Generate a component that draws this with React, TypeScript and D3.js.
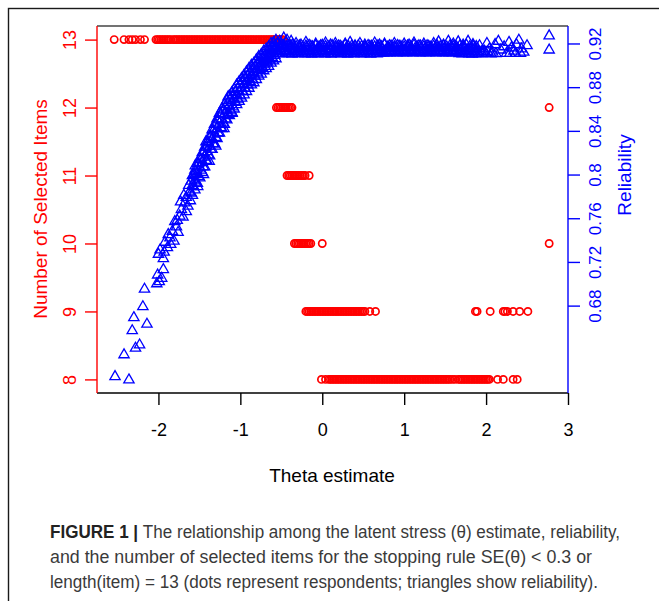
import React, { useRef, useEffect } from "react";
import * as d3 from "d3";

const W = 659;
const H = 601;
const RED = "#ff0000";
const BLUE = "#0000ff";

// axis ticks
const thetaTicks = [-2, -1, 0, 1, 2, 3];
const itemTicks = [8, 9, 10, 11, 12, 13];
const relTicks = [0.68, 0.72, 0.76, 0.8, 0.84, 0.88, 0.92];
const relTickLabels = ["0.68", "0.72", "0.76", "0.8", "0.84", "0.88", "0.92"];

// theta estimates of respondents, grouped by number of selected items
const items13 = [
  -2.54, -2.42, -2.36, -2.32, -2.28, -2.22, -2.17,
  -2.03, -2.01, -1.99, -1.97, -1.95, -1.93, -1.91, -1.89, -1.87, -1.85,
  -1.82, -1.8, -1.78, -1.76, -1.74, -1.72, -1.7, -1.68, -1.66, -1.64, -1.62, -1.6, -1.58, -1.56,
  -1.54, -1.52, -1.5, -1.48, -1.46, -1.44, -1.42, -1.4, -1.38, -1.36, -1.34, -1.32, -1.3, -1.28,
  -1.26, -1.24, -1.22, -1.2, -1.18, -1.16, -1.14, -1.12, -1.1, -1.08, -1.06, -1.04, -1.02, -1.0,
  -0.98, -0.96, -0.94, -0.92, -0.9, -0.88, -0.86, -0.84, -0.82, -0.8, -0.78, -0.76, -0.74, -0.72,
  -0.7, -0.68, -0.66, -0.64, -0.62, -0.6, -0.58, -0.56, -0.54, -0.52, -0.5, -0.48,
];
const items12 = [-0.56, -0.54, -0.52, -0.5, -0.48, -0.46, -0.44, -0.42, -0.4, -0.38, -0.37, 2.77];
const items11 = [-0.43, -0.41, -0.39, -0.37, -0.35, -0.33, -0.31, -0.29, -0.27, -0.25, -0.23, -0.21, -0.16];
const items10 = [-0.34, -0.32, -0.3, -0.28, -0.26, -0.24, -0.22, -0.2, -0.18, -0.16, -0.14, 0.0, 2.77];
const items9 = [
  -0.2, -0.18, -0.16, -0.14, -0.12, -0.1, -0.08, -0.06, -0.04, -0.02, 0.0, 0.02, 0.04, 0.06,
  0.08, 0.1, 0.12, 0.14, 0.16, 0.18, 0.2, 0.22, 0.24, 0.26, 0.28, 0.3, 0.32, 0.34, 0.36, 0.38,
  0.4, 0.42, 0.44, 0.46, 0.48, 0.5, 0.52, 0.58, 0.65,
  1.87, 1.89, 2.05, 2.21, 2.23, 2.26, 2.33, 2.41, 2.51,
];
const items8 = [
  -0.01, 0.04, 0.08, 0.1, 0.12, 0.14, 0.16, 0.18, 0.2, 0.22, 0.24, 0.26, 0.28, 0.3, 0.32, 0.34,
  0.36, 0.38, 0.4, 0.42, 0.44, 0.46, 0.48, 0.5, 0.52, 0.54, 0.56, 0.58, 0.6, 0.62, 0.64, 0.66,
  0.68, 0.7, 0.72, 0.74, 0.76, 0.78, 0.8, 0.82, 0.84, 0.86, 0.88, 0.9, 0.92, 0.94, 0.96, 0.98,
  1.0, 1.02, 1.04, 1.06, 1.08, 1.1, 1.12, 1.14, 1.16, 1.18, 1.2, 1.22, 1.24, 1.26, 1.28, 1.3,
  1.32, 1.34, 1.36, 1.38, 1.4, 1.42, 1.44, 1.46, 1.48, 1.5, 1.52, 1.54, 1.56, 1.59, 1.62, 1.66,
  1.68, 1.7, 1.72, 1.74, 1.76, 1.78, 1.8, 1.82, 1.84, 1.86, 1.88, 1.9, 1.92, 1.94, 1.96, 1.98,
  2.0, 2.02, 2.04, 2.14, 2.21, 2.33, 2.38,
];

// reliability vs theta: [theta, reliability]
const relLow: [number, number][] = [
  [-2.53, 0.615], [-2.42, 0.635], [-2.36, 0.612], [-2.32, 0.657], [-2.3, 0.669], [-2.28, 0.641],
  [-2.23, 0.644], [-2.19, 0.679], [-2.17, 0.695], [-2.14, 0.663], [-2.02, 0.7], [-2.01, 0.708],
  [-1.99, 0.702], [-1.96, 0.705], [-1.94, 0.713], [-1.94, 0.723], [-2.0, 0.727], [-1.98, 0.731],
  [-1.93, 0.729], [-1.89, 0.733], [-1.86, 0.742], [-1.83, 0.748], [-1.81, 0.739], [-1.78, 0.752],
  [-1.77, 0.758], [-1.74, 0.762], [-1.72, 0.768], [-1.7, 0.761], [-1.68, 0.774], [-1.66, 0.779],
  [-1.64, 0.771], [-1.62, 0.784], [-1.92, 0.738], [-1.88, 0.745], [-1.85, 0.736], [-1.8, 0.757],
  [-1.76, 0.747], [-1.73, 0.775], [-1.69, 0.781], [-1.66, 0.766], [-1.63, 0.79], [-1.61, 0.776],
];
const relCurve: [number, number][] = [
  [-1.6, 0.794], [-1.6, 0.783], [-1.585, 0.79], [-1.57, 0.8], [-1.57, 0.789], [-1.555, 0.795],
  [-1.54, 0.803], [-1.54, 0.793], [-1.525, 0.801], [-1.51, 0.81], [-1.51, 0.798], [-1.495, 0.806],
  [-1.48, 0.814], [-1.48, 0.804], [-1.465, 0.811], [-1.45, 0.82], [-1.45, 0.807], [-1.435, 0.816],
  [-1.42, 0.825], [-1.42, 0.813], [-1.405, 0.821], [-1.39, 0.829], [-1.39, 0.818], [-1.375, 0.826],
  [-1.36, 0.835], [-1.36, 0.823], [-1.345, 0.832], [-1.33, 0.84], [-1.33, 0.828], [-1.315, 0.837],
  [-1.3, 0.846], [-1.3, 0.834], [-1.285, 0.842], [-1.27, 0.85], [-1.27, 0.838], [-1.255, 0.847],
  [-1.24, 0.855], [-1.24, 0.843], [-1.225, 0.851], [-1.21, 0.859], [-1.21, 0.847], [-1.195, 0.855],
  [-1.18, 0.862], [-1.18, 0.851], [-1.165, 0.859], [-1.15, 0.866], [-1.15, 0.855], [-1.135, 0.863],
  [-1.12, 0.87], [-1.12, 0.859], [-1.105, 0.866], [-1.09, 0.873], [-1.09, 0.862], [-1.075, 0.869],
  [-1.06, 0.876], [-1.06, 0.866], [-1.045, 0.873], [-1.03, 0.879], [-1.03, 0.869], [-1.015, 0.876],
  [-1.0, 0.883], [-1.0, 0.872], [-0.985, 0.879], [-0.97, 0.886], [-0.97, 0.876], [-0.955, 0.882],
  [-0.94, 0.889], [-0.94, 0.879], [-0.925, 0.885], [-0.91, 0.891], [-0.91, 0.882], [-0.895, 0.888],
  [-0.88, 0.894], [-0.88, 0.885], [-0.865, 0.891], [-0.85, 0.897], [-0.85, 0.887], [-0.835, 0.893],
  [-0.82, 0.899], [-0.82, 0.89], [-0.805, 0.896], [-0.79, 0.902], [-0.79, 0.893], [-0.775, 0.899],
  [-0.76, 0.905], [-0.76, 0.896], [-0.745, 0.901], [-0.73, 0.907], [-0.73, 0.898], [-0.715, 0.904],
  [-0.7, 0.909], [-0.7, 0.901], [-0.685, 0.906], [-0.67, 0.912], [-0.67, 0.903], [-0.655, 0.908],
  [-0.64, 0.914], [-0.64, 0.905], [-0.625, 0.911], [-0.61, 0.916], [-0.61, 0.907], [-0.595, 0.913],
  [-0.58, 0.918], [-0.58, 0.909], [-0.565, 0.915], [-0.55, 0.92], [-0.55, 0.911],
  [-1.45, 0.8], [-1.3, 0.826], [-1.38, 0.812], [-1.52, 0.789], [-1.2, 0.842], [-1.1, 0.856],
  [-1.55, 0.808], [-1.42, 0.83], [-1.15, 0.871], [-0.52, 0.922], [-0.47, 0.925], [-0.43, 0.923],
  [-0.38, 0.922],
];
const relCurveFringe: [number, number][] = [
  [-1.585, 0.799], [-1.585, 0.781], [-1.555, 0.804], [-1.555, 0.786], [-1.525, 0.81], [-1.525, 0.792],
  [-1.495, 0.815], [-1.495, 0.797], [-1.465, 0.82], [-1.465, 0.802], [-1.435, 0.825], [-1.435, 0.807],
  [-1.405, 0.83], [-1.405, 0.812], [-1.375, 0.835], [-1.375, 0.817], [-1.345, 0.841], [-1.345, 0.823],
  [-1.315, 0.846], [-1.315, 0.828], [-1.285, 0.851], [-1.285, 0.833], [-1.255, 0.856], [-1.255, 0.838],
  [-1.225, 0.86], [-1.225, 0.842], [-1.195, 0.864], [-1.195, 0.846], [-1.165, 0.868], [-1.165, 0.85],
  [-1.135, 0.872], [-1.135, 0.854], [-1.105, 0.875], [-1.105, 0.857], [-1.075, 0.878], [-1.075, 0.86],
  [-1.045, 0.882], [-1.045, 0.864], [-1.015, 0.885], [-1.015, 0.867], [-0.985, 0.888], [-0.985, 0.87],
  [-0.955, 0.891], [-0.955, 0.873], [-0.925, 0.894], [-0.925, 0.876], [-0.895, 0.897], [-0.895, 0.879],
  [-0.865, 0.9], [-0.865, 0.882], [-0.835, 0.902], [-0.835, 0.884], [-0.805, 0.905], [-0.805, 0.887],
  [-0.775, 0.908], [-0.775, 0.89], [-0.745, 0.91], [-0.745, 0.892], [-0.715, 0.913], [-0.715, 0.895],
  [-0.685, 0.915], [-0.685, 0.897], [-0.655, 0.917], [-0.655, 0.899], [-0.625, 0.92], [-0.625, 0.902],
  [-0.595, 0.921], [-0.595, 0.904], [-0.565, 0.923], [-0.565, 0.906],
];
const relPlateauFloor: [number, number][] = [
  [-0.53, 0.9108], [-0.49, 0.9104], [-0.45, 0.911], [-0.41, 0.9106], [-0.37, 0.9103], [-0.33, 0.9109],
  [-0.29, 0.9105], [-0.25, 0.9111], [-0.21, 0.9104], [-0.17, 0.9107], [-0.13, 0.9103], [-0.09, 0.911],
  [-0.05, 0.9105], [-0.01, 0.9108], [0.03, 0.9104], [0.07, 0.9109], [0.11, 0.9103], [0.15, 0.9106],
  [0.19, 0.9111], [0.23, 0.9104], [0.27, 0.9107], [0.31, 0.9103], [0.35, 0.9109], [0.39, 0.9105],
  [0.43, 0.911], [0.47, 0.9104], [0.51, 0.9106], [0.55, 0.9108], [0.59, 0.9103], [0.63, 0.9109],
  [0.67, 0.9105], [0.71, 0.9111], [0.75, 0.9112], [0.79, 0.9115], [0.83, 0.9113], [0.87, 0.9116],
  [0.91, 0.9114], [0.95, 0.9117], [0.99, 0.9113], [1.03, 0.9115], [1.07, 0.9118], [1.11, 0.9114],
  [1.15, 0.9116], [1.19, 0.9113], [1.23, 0.9117], [1.27, 0.9115], [1.31, 0.9114], [1.35, 0.9118],
  [1.39, 0.9113], [1.43, 0.9116], [1.47, 0.9114], [1.51, 0.9117], [1.55, 0.9115], [1.59, 0.9113],
  [1.63, 0.9116], [1.67, 0.9107], [1.71, 0.9104], [1.75, 0.9109], [1.79, 0.9105], [1.83, 0.9103],
  [1.87, 0.9108], [1.91, 0.9104], [1.95, 0.9106], [2.0, 0.9109], [2.06, 0.9105], [2.12, 0.9107],
];
const relPlateauLower: [number, number][] = [
  [-0.5, 0.9122], [-0.46, 0.9128], [-0.42, 0.912], [-0.38, 0.9125], [-0.34, 0.913], [-0.3, 0.9121],
  [-0.26, 0.9127], [-0.22, 0.9123], [-0.18, 0.9129], [-0.14, 0.912], [-0.1, 0.9126], [-0.06, 0.9122],
  [-0.02, 0.9128], [0.02, 0.9121], [0.06, 0.9125], [0.1, 0.913], [0.14, 0.9122], [0.18, 0.9127],
  [0.22, 0.912], [0.26, 0.9126], [0.3, 0.9123], [0.34, 0.9129], [0.38, 0.9121], [0.42, 0.9125],
  [0.46, 0.9128], [0.5, 0.912], [0.54, 0.9126], [0.58, 0.9122], [0.62, 0.9129], [0.66, 0.9123],
  [0.7, 0.9127], [0.74, 0.912], [0.78, 0.9125], [0.82, 0.9128], [0.86, 0.9121], [0.9, 0.9126],
  [0.94, 0.9123], [0.98, 0.913], [1.02, 0.9122], [1.06, 0.9127], [1.1, 0.912], [1.14, 0.9125],
  [1.18, 0.9129], [1.22, 0.9121], [1.26, 0.9126], [1.3, 0.9123], [1.34, 0.9128], [1.38, 0.912],
  [1.42, 0.9125], [1.46, 0.9122], [1.5, 0.9127], [1.54, 0.9121], [1.58, 0.9126], [1.62, 0.9123],
  [1.66, 0.9128], [1.7, 0.912], [1.74, 0.9125], [1.78, 0.9122], [1.82, 0.9127], [1.86, 0.9121],
  [1.9, 0.9126], [1.94, 0.9123], [1.98, 0.9128], [2.02, 0.912],
];
const relPlateauMid: [number, number][] = [
  [-0.51, 0.914], [-0.47, 0.9155], [-0.43, 0.9135], [-0.39, 0.916], [-0.35, 0.9145], [-0.31, 0.913],
  [-0.27, 0.9155], [-0.23, 0.914], [-0.19, 0.9165], [-0.15, 0.9135], [-0.11, 0.915], [-0.07, 0.914],
  [-0.03, 0.916], [0.01, 0.9135], [0.05, 0.9155], [0.09, 0.914], [0.13, 0.913], [0.17, 0.916],
  [0.21, 0.9145], [0.25, 0.9135], [0.29, 0.9155], [0.33, 0.914], [0.37, 0.916], [0.41, 0.9135],
  [0.45, 0.915], [0.49, 0.914], [0.53, 0.9165], [0.57, 0.9135], [0.61, 0.915], [0.65, 0.914],
  [0.69, 0.916], [0.73, 0.9145], [0.77, 0.9135], [0.81, 0.9155], [0.85, 0.914], [0.89, 0.916],
  [0.93, 0.9135], [0.97, 0.915], [1.01, 0.914], [1.05, 0.9165], [1.09, 0.9135], [1.13, 0.915],
  [1.17, 0.914], [1.21, 0.916], [1.25, 0.9145], [1.29, 0.9135], [1.33, 0.9155], [1.37, 0.914],
  [1.41, 0.916], [1.45, 0.9135], [1.49, 0.915], [1.53, 0.914], [1.57, 0.9165], [1.61, 0.9135],
  [1.65, 0.915], [1.69, 0.914], [1.73, 0.916], [1.77, 0.9135], [1.81, 0.915], [1.85, 0.914],
  [1.89, 0.9155],
];
const relPlateauUpper: [number, number][] = [
  [-0.52, 0.917], [-0.48, 0.9182], [-0.44, 0.9168], [-0.4, 0.9178], [-0.36, 0.9185], [-0.32, 0.9172],
  [-0.28, 0.918], [-0.24, 0.9166], [-0.2, 0.9176], [-0.16, 0.9184], [-0.12, 0.917], [-0.08, 0.9179],
  [-0.04, 0.9167], [0.0, 0.9183], [0.04, 0.9174], [0.08, 0.9169], [0.12, 0.9181], [0.16, 0.9172],
  [0.2, 0.9178], [0.24, 0.9166], [0.28, 0.9185], [0.32, 0.9171], [0.36, 0.9177], [0.4, 0.9168],
  [0.44, 0.918], [0.48, 0.9173], [0.52, 0.9167], [0.56, 0.9182], [0.6, 0.9175], [0.64, 0.9169],
  [0.68, 0.9179], [0.72, 0.9171], [0.76, 0.9184], [0.8, 0.9167], [0.84, 0.9176], [0.88, 0.917],
  [0.92, 0.9181], [0.96, 0.9173], [1.0, 0.9168], [1.04, 0.9178], [1.08, 0.9172], [1.12, 0.9185],
  [1.16, 0.9169], [1.2, 0.9177], [1.24, 0.9171], [1.28, 0.918], [1.32, 0.9166], [1.36, 0.9175],
  [1.4, 0.9183], [1.44, 0.917], [1.48, 0.9178], [1.52, 0.9168], [1.56, 0.9181], [1.6, 0.9173],
  [1.64, 0.9167], [1.68, 0.9179], [1.72, 0.9171], [1.76, 0.9184], [1.8, 0.9169], [1.84, 0.9176],
  [1.88, 0.9172],
];
const relPlateauTop: [number, number][] = [
  [-0.5, 0.919], [-0.44, 0.9205], [-0.38, 0.918], [-0.32, 0.92], [-0.26, 0.9185], [-0.2, 0.921],
  [-0.14, 0.9175], [-0.08, 0.9195], [-0.02, 0.918], [0.04, 0.9205], [0.1, 0.9185], [0.16, 0.92],
  [0.22, 0.9175], [0.28, 0.9195], [0.34, 0.921], [0.4, 0.918], [0.46, 0.92], [0.52, 0.9185],
  [0.58, 0.9175], [0.64, 0.9205], [0.7, 0.9185], [0.76, 0.9195], [0.82, 0.918], [0.88, 0.92],
  [0.94, 0.9175], [1.0, 0.9195], [1.06, 0.9185], [1.12, 0.9205], [1.18, 0.918], [1.24, 0.9195],
  [1.3, 0.9175], [1.36, 0.92], [1.42, 0.9215], [1.48, 0.9185], [1.54, 0.922], [1.6, 0.9195],
  [1.66, 0.9215], [1.72, 0.9185], [1.78, 0.922], [1.84, 0.919],
];
const relTail: [number, number][] = [
  [1.92, 0.918], [1.96, 0.913], [2.01, 0.92], [2.04, 0.915], [2.08, 0.912], [2.11, 0.919],
  [2.15, 0.922], [2.18, 0.914], [2.22, 0.917], [2.25, 0.911], [2.28, 0.921], [2.31, 0.916],
  [2.34, 0.913], [2.37, 0.919], [2.4, 0.923], [2.43, 0.915], [2.46, 0.912], [2.5, 0.918],
  [2.29, 0.911], [2.36, 0.911], [2.42, 0.911], [2.77, 0.927], [2.77, 0.914],
];

const captionLines = [
  { bold: "FIGURE 1 | ", text: "The relationship among the latent stress (\u03b8) estimate, reliability,", width: 570 },
  { bold: "", text: "and the number of selected items for the stopping rule SE(\u03b8) < 0.3 or", width: 542 },
  { bold: "", text: "length(item) = 13 (dots represent respondents; triangles show reliability).", width: 548 },
];

function App() {
  const svgRef = useRef<SVGSVGElement>(null);

  useEffect(() => {
    const svg = d3.select(svgRef.current);
    svg.selectAll("*").remove();

    const font = "'Liberation Sans', Arial, Helvetica, sans-serif";
    const m = { left: 97, right: 568, top: 26, bottom: 393 };

    svg.append("rect").attr("width", W).attr("height", H).attr("fill", "#fff");
    // figure frame
    svg.append("rect")
      .attr("x", 8.5).attr("y", 8.5).attr("width", 720).attr("height", 720)
      .attr("fill", "none").attr("stroke", "#1a1a1a").attr("stroke-width", 1.4);

    const x = d3.scaleLinear().domain([-2.75, 3]).range([m.left, m.right]);
    const yItems = d3.scaleLinear().domain([7.8, 13.2]).range([m.bottom, m.top]);
    const yRel = d3.scaleLinear().domain([0.6, 0.936]).range([m.bottom, m.top]);

    // red circles: respondents
    const rows = [
      { n: 13, t: items13 }, { n: 12, t: items12 }, { n: 11, t: items11 },
      { n: 10, t: items10 }, { n: 9, t: items9 }, { n: 8, t: items8 },
    ];
    const dots = rows.flatMap(r => r.t.map(t => ({ t, n: r.n })));
    svg.append("g")
      .selectAll("circle")
      .data(dots)
      .join("circle")
      .attr("cx", d => x(d.t))
      .attr("cy", d => yItems(d.n))
      .attr("r", 3.6)
      .attr("fill", "none")
      .attr("stroke", RED)
      .attr("stroke-width", 1.7);

    // blue triangles: reliability
    const rel = [
      ...relLow, ...relCurve, ...relCurveFringe, ...relPlateauFloor, ...relPlateauLower,
      ...relPlateauMid, ...relPlateauUpper, ...relPlateauTop, ...relTail,
    ];
    const tri = d3.symbol().type(d3.symbolTriangle).size(46);
    svg.append("g")
      .selectAll("path")
      .data(rel)
      .join("path")
      .attr("transform", d => `translate(${x(d[0])},${yRel(d[1])})`)
      .attr("d", tri)
      .attr("fill", "none")
      .attr("stroke", BLUE)
      .attr("stroke-width", 1.3);

    // plot box
    const box = svg.append("g").attr("stroke-width", 1.4);
    box.append("line").attr("x1", m.left).attr("x2", m.right).attr("y1", m.top).attr("y2", m.top).attr("stroke", "#444");
    box.append("line").attr("x1", m.left).attr("x2", m.right).attr("y1", m.bottom).attr("y2", m.bottom).attr("stroke", "#000");
    box.append("line").attr("x1", m.left).attr("x2", m.left).attr("y1", m.top).attr("y2", m.bottom).attr("stroke", RED);
    box.append("line").attr("x1", m.right).attr("x2", m.right).attr("y1", m.top).attr("y2", m.bottom).attr("stroke", BLUE);

    // x axis
    const gx = svg.append("g")
      .attr("transform", `translate(0,${m.bottom})`)
      .call(d3.axisBottom(x).tickValues(thetaTicks).tickSize(12).tickPadding(18).tickFormat(d => String(d)));
    gx.select(".domain").remove();
    gx.attr("font-size", 18).attr("font-family", font);
    gx.selectAll("line").attr("stroke", "#000").attr("stroke-width", 1.4);
    gx.selectAll("text").attr("fill", "#000");

    // left axis
    const gl = svg.append("g")
      .attr("transform", `translate(${m.left},0)`)
      .call(d3.axisLeft(yItems).tickValues(itemTicks).tickSize(12).tickFormat(d => String(d)));
    gl.select(".domain").remove();
    gl.attr("font-size", 18).attr("font-family", font);
    gl.selectAll("line").attr("stroke", RED).attr("stroke-width", 1.4);
    gl.selectAll("text")
      .attr("x", null).attr("dy", null)
      .attr("text-anchor", "middle").attr("dominant-baseline", "central")
      .attr("transform", "translate(-27,0) rotate(-90)")
      .attr("fill", RED);

    // right axis
    const gr = svg.append("g")
      .attr("transform", `translate(${m.right},0)`)
      .call(d3.axisRight(yRel).tickValues(relTicks).tickSize(12).tickFormat((d, i) => relTickLabels[i]));
    gr.select(".domain").remove();
    gr.attr("font-size", 17).attr("font-family", font);
    gr.selectAll("line").attr("stroke", BLUE).attr("stroke-width", 1.4);
    gr.selectAll("text")
      .attr("x", null).attr("dy", null)
      .attr("text-anchor", "middle").attr("dominant-baseline", "central")
      .attr("transform", "translate(27,0) rotate(-90)")
      .attr("fill", BLUE);

    // axis titles
    svg.append("text")
      .attr("x", 332).attr("y", 475)
      .attr("text-anchor", "middle").attr("dominant-baseline", "central")
      .attr("font-family", font).attr("font-size", 19).attr("fill", "#000")
      .text("Theta estimate");
    svg.append("text")
      .attr("transform", "translate(40,209) rotate(-90)")
      .attr("text-anchor", "middle").attr("dominant-baseline", "central")
      .attr("font-family", font).attr("font-size", 19).attr("fill", RED)
      .text("Number of Selected Items");
    svg.append("text")
      .attr("transform", "translate(624,175) rotate(-90)")
      .attr("text-anchor", "middle").attr("dominant-baseline", "central")
      .attr("font-family", font).attr("font-size", 19).attr("fill", BLUE)
      .text("Reliability");

    // caption
    captionLines.forEach((line, i) => {
      const t = svg.append("text")
        .attr("x", 50).attr("y", 538 + i * 25)
        .attr("font-family", "'Liberation Sans Narrow', 'Liberation Sans', Arial, sans-serif")
        .attr("font-size", 17.5)
        .attr("fill", "#3a3a3a")
        .attr("textLength", line.width)
        .attr("lengthAdjust", "spacingAndGlyphs");
      if (line.bold) t.append("tspan").attr("font-weight", "bold").attr("fill", "#222").text(line.bold);
      t.append("tspan").text(line.text);
    });
  }, []);

  return (
    <svg
      ref={svgRef}
      width={W}
      height={H}
      style={{ position: "absolute", left: 0, top: 0, display: "block" }}
    />
  );
}

export default App;
